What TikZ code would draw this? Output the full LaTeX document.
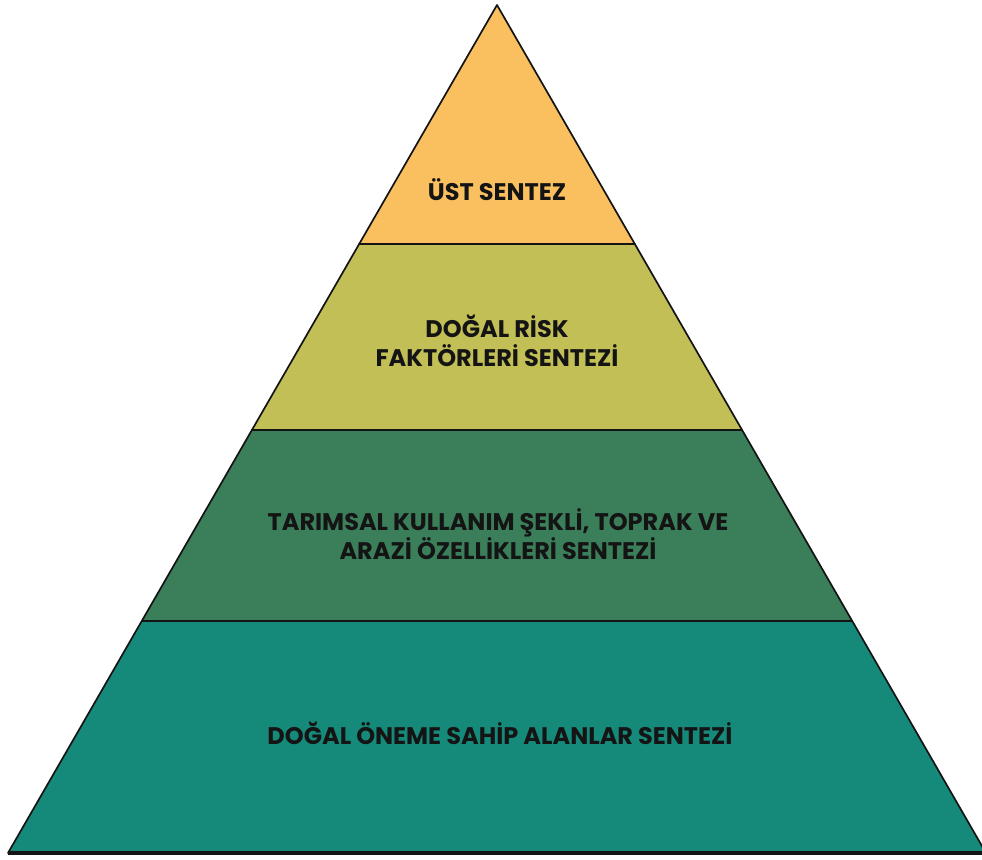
\documentclass[tikz,border=0pt]{standalone}
\usepackage{fontspec}
\setmainfont{Poppins}
\usetikzlibrary{calc}
\definecolor{ustcol}{HTML}{FAC060}
\definecolor{riskcol}{HTML}{C3BF57}
\definecolor{tarimcol}{HTML}{3A7E5A}
\definecolor{dogalcol}{HTML}{168A7A}
\definecolor{edge}{HTML}{141414}
\begin{document}
\begin{tikzpicture}[x=1pt, y=-1pt,
  every node/.style={font=\bfseries\fontsize{24}{28.5}\selectfont, align=center, text=edge},
  layer/.style={draw=edge, line width=1.7pt, line join=round}]
  \useasboundingbox[fill=white] (0,0) rectangle (982,859);
  % corners of the pyramid
  \coordinate (apex) at (497,5);
  \coordinate (bl) at (8,853);
  \coordinate (br) at (986,853);
  \coordinate (l1) at ($(apex)!0.2818!(bl)$);
  \coordinate (r1) at ($(apex)!0.2818!(br)$);
  \coordinate (l2) at ($(apex)!0.5012!(bl)$);
  \coordinate (r2) at ($(apex)!0.5012!(br)$);
  \coordinate (l3) at ($(apex)!0.7264!(bl)$);
  \coordinate (r3) at ($(apex)!0.7264!(br)$);
  % layers
  \filldraw[layer, fill=ustcol] (apex) -- (r1) -- (l1) -- cycle;
  \filldraw[layer, fill=riskcol] (l1) -- (r1) -- (r2) -- (l2) -- cycle;
  \filldraw[layer, fill=tarimcol] (l2) -- (r2) -- (r3) -- (l3) -- cycle;
  \filldraw[layer, fill=dogalcol] (l3) -- (r3) -- (br) -- (bl) -- cycle;
  \draw[edge, line width=3.2pt] (bl) -- (br);
  % labels
  \node (ust) at (497,190) {ÜST SENTEZ};
  \node (risk) at (497,341) {DOĞAL RİSK\\FAKTÖRLERİ SENTEZİ};
  \node (tarim) at (498,534) {TARIMSAL KULLANIM ŞEKLİ, TOPRAK VE\\ARAZİ ÖZELLİKLERİ SENTEZİ};
  \node (dogal) at (500,733) {DOĞAL ÖNEME SAHİP ALANLAR SENTEZİ};
\end{tikzpicture}
\end{document}
